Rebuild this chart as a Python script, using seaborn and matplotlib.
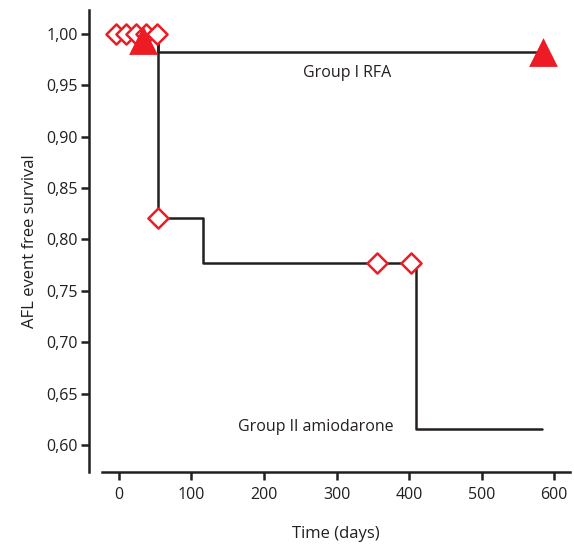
import matplotlib
matplotlib.use("Agg")
import matplotlib.pyplot as plt
import seaborn as sns
import pandas as pd
from matplotlib.ticker import FuncFormatter

# step curves (time in days, survival)
rfa_time = [0, 54, 585]
rfa_surv = [1.0, 0.982, 0.982]
amio_time = [0, 54, 116, 410, 583]
amio_surv = [1.0, 0.821, 0.777, 0.6155, 0.6155]

# censored observations
rfa_cens_time = [33, 585]
rfa_cens_surv = [0.994, 0.982]
amio_cens_time = [-4, 10, 24, 37, 52, 54, 356, 403]
amio_cens_surv = [1.0, 1.0, 1.0, 1.0, 1.0, 0.821, 0.777, 0.777]

x_ticks = [0, 100, 200, 300, 400, 500, 600]
y_ticks = [0.60, 0.65, 0.70, 0.75, 0.80, 0.85, 0.90, 0.95, 1.00]

RED = "#ed1c24"
INK = "#231f20"

sns.set_style("ticks")
plt.rcParams["font.family"] = ["Open Sans", "DejaVu Sans"]

fig = plt.figure(figsize=(5.74, 5.47), dpi=100)
ax = fig.add_axes([102 / 574, 75 / 547, 468 / 574, 462 / 547])

rfa = pd.DataFrame({"time": rfa_time, "surv": rfa_surv})
amio = pd.DataFrame({"time": amio_time, "surv": amio_surv})
sns.lineplot(data=amio, x="time", y="surv", drawstyle="steps-post",
             color=INK, linewidth=1.8, ax=ax, zorder=2)
sns.lineplot(data=rfa, x="time", y="surv", drawstyle="steps-post",
             color=INK, linewidth=1.8, ax=ax, zorder=2)

sns.scatterplot(x=amio_cens_time, y=amio_cens_surv, marker="D", s=105,
                facecolor="white", edgecolor=RED, linewidth=1.8, ax=ax, zorder=3)
sns.scatterplot(x=rfa_cens_time, y=rfa_cens_surv, marker="^", s=430,
                color=RED, edgecolor=RED, linewidth=0, ax=ax, zorder=4)

ax.text(315, 0.962, "Group I RFA", ha="center", va="center",
        color=INK, fontsize=11.5)
ax.text(271, 0.6175, "Group II amiodarone", ha="center", va="center",
        color=INK, fontsize=11.5)

ax.set_xlim(-23.4, 622)
ax.set_ylim(0.574, 1.023)
ax.set_xticks(x_ticks)
ax.set_yticks(y_ticks)
ax.yaxis.set_major_formatter(FuncFormatter(lambda v, p: f"{v:.2f}".replace(".", ",")))
ax.set_xlabel("Time (days)", labelpad=16, color=INK, fontsize=12)
ax.set_ylabel("AFL event free survival", labelpad=6, color=INK, fontsize=12)

for side in ["top", "right"]:
    ax.spines[side].set_visible(False)
ax.spines["left"].set_position(("outward", 9.4))
for side in ["left", "bottom"]:
    ax.spines[side].set_linewidth(1.8)
    ax.spines[side].set_color(INK)
ax.tick_params(width=1.8, length=6, color=INK, labelcolor=INK, labelsize=11.5)
ax.tick_params(axis="y", pad=2)
ax.tick_params(axis="x", pad=5)

fig.savefig("out.png", dpi=100)
